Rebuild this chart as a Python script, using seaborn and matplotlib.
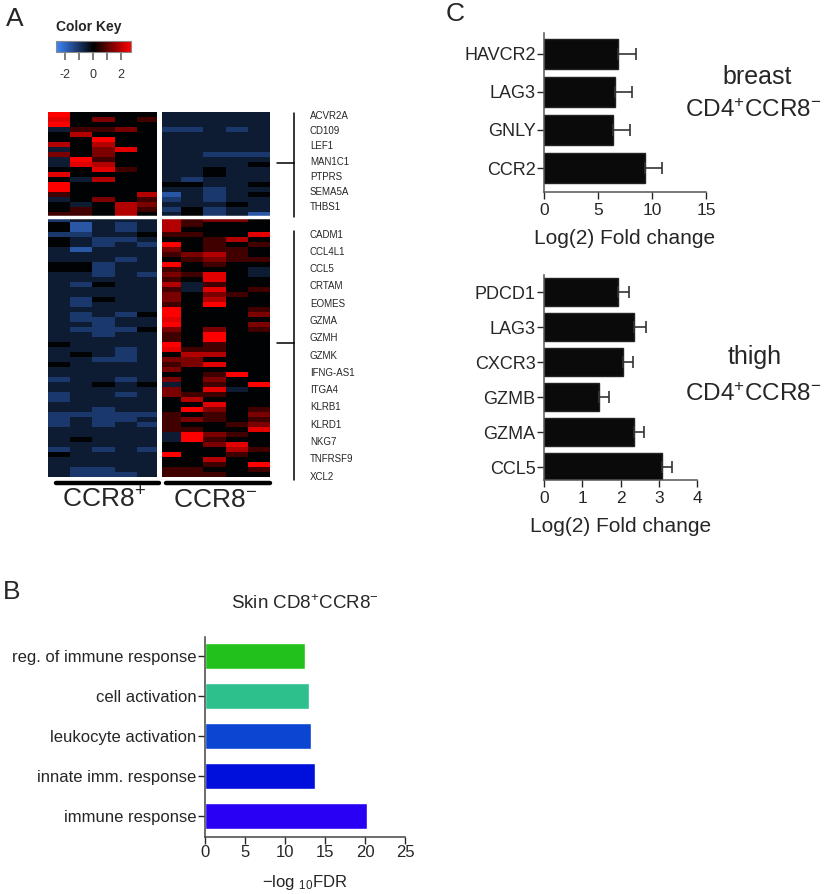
import numpy as np
import pandas as pd
import seaborn as sns
import matplotlib.pyplot as plt
from matplotlib.colors import LinearSegmentedColormap

# heatmap levels: each character of a row indexes heat_levels
# first 5 characters = CCR8+ samples, last 5 = CCR8- samples
heat_levels = [-2.3, -1.7, -1.1, -0.5, 0.0, 0.7, 1.3, 1.9, 2.4, 2.7]
heat_top = [
    "9444433333", "8464533333", "9444433333", "3556422323", "4744433333",
    "4494433333", "7474433333", "3468433333", "6464433222", "3954433333",
    "3874433334", "4485433433", "8444433433", "4374432333", "9444444334",
    "9444433233", "5444713234", "3464523233", "4347633343", "4547524233",
    "5547434231",
]
heat_bottom = [
    "2333375664", "4132375444", "4132374444", "2233455448", "4322344574",
    "4323294545", "3133364554", "3333356754", "3332345655", "4423394544",
    "4423354443", "3323265843", "3333354844", "3243373544", "3333353845",
    "3333364654", "3243364744", "3233354944", "3333394445", "3232494446",
    "3223384444", "3323394446", "3222464645", "3323354944", "3333354944",
    "4333394544", "3332385544", "3432347744", "3322366444", "4333356844",
    "3333364444", "3333344594", "2332364644", "3343434549", "3333364834",
    "2332365544", "2333347444", "3333344844", "3323349645", "2222254546",
    "2322356545", "2323254456", "3333355448", "3333339654", "3433339544",
    "3333344684", "2323244475", "4333394454", "3333344744", "3333344549",
    "3223355445", "3222355544",
]
genes_top = ["ACVR2A", "CD109", "LEF1", "MAN1C1", "PTPRS", "SEMA5A", "THBS1"]
genes_bottom = ["CADM1", "CCL4L1", "CCL5", "CRTAM", "EOMES", "GZMA", "GZMH",
                "GZMK", "IFNG-AS1", "ITGA4", "KLRB1", "KLRD1", "NKG7",
                "TNFRSF9", "XCL2"]

go_terms = ["reg. of immune response", "cell activation", "leukocyte activation",
            "innate imm. response", "immune response"]
go_fdr = [12.5, 13.0, 13.2, 13.75, 20.2]
go_colors = ["#22c11c", "#2ec08c", "#0a46d2", "#0010dc", "#2a00f5"]

breast_genes = ["HAVCR2", "LAG3", "GNLY", "CCR2"]
breast_fc = [6.85, 6.6, 6.4, 9.35]
breast_err = [1.65, 1.55, 1.6, 1.55]

thigh_genes = ["PDCD1", "LAG3", "CXCR3", "GZMB", "GZMA", "CCL5"]
thigh_fc = [1.94, 2.35, 2.07, 1.44, 2.34, 3.09]
thigh_err = [0.28, 0.31, 0.25, 0.27, 0.28, 0.25]

sns.set_style("ticks")
plt.rcParams["font.family"] = ["Liberation Sans", "DejaVu Sans"]
plt.rcParams["mathtext.fontset"] = "custom"
plt.rcParams["mathtext.rm"] = "Liberation Sans"
plt.rcParams["mathtext.it"] = "Liberation Sans:italic"
plt.rcParams["mathtext.bf"] = "Liberation Sans:bold"

W, H = 825, 894
fig = plt.figure(figsize=(W / 100, H / 100), dpi=100)


def box(x0, y0, x1, y1):
    # pixel box -> figure fraction rect
    return [x0 / W, 1 - y1 / H, (x1 - x0) / W, (y1 - y0) / H]


# ---- A: heatmap
rows = heat_top + heat_bottom
heat = pd.DataFrame([[heat_levels[int(c)] for c in r] for r in rows])
cmap = LinearSegmentedColormap.from_list("key", ["#3f86ff", "#000000", "#ff0000"])

hax = fig.add_axes(box(48, 112, 270, 477))
cax = fig.add_axes(box(56, 41, 131, 52))
sns.heatmap(heat, ax=hax, cmap=cmap, vmin=-2.65, vmax=2.7, cbar_ax=cax,
            cbar_kws={"orientation": "horizontal"},
            xticklabels=False, yticklabels=False)
hax.axhline(len(heat_top), color="white", lw=2.5)
hax.axvline(5, color="white", lw=3.6)

cax.set_xticks([-2, -1, 0, 1, 2])
cax.set_xticklabels(["-2", "", "0", "", "2"])
cax.tick_params(axis="x", length=6, width=1.2, color="#666666", pad=6,
                labelsize=9, labelcolor="#333333")
cbar = hax.collections[0].colorbar
cbar.outline.set_edgecolor("#888888")
cbar.outline.set_linewidth(0.8)

# ---- B: GO terms
bax = fig.add_axes(box(205, 637, 405, 837))
sns.barplot(x=go_fdr, y=go_terms, hue=go_terms, palette=go_colors, legend=False,
            orient="h", width=0.65, ax=bax, saturation=1)
bax.set_xlim(0, 25)
bax.set_ylim(4.53, -0.48)
bax.set_xticks([0, 5, 10, 15, 20, 25])
bax.set_title(r"Skin $\mathregular{CD8^{+}CCR8^{-}}$", fontsize=13.5, pad=20)
bax.set_xlabel(r"$\mathregular{-log\ _{10}FDR}$", fontsize=12, labelpad=9)
bax.set_ylabel("")
bax.tick_params(labelsize=12, length=5, width=1, pad=1)
sns.despine(ax=bax)
for s in ["left", "bottom"]:
    bax.spines[s].set_color("#444444")
    bax.spines[s].set_linewidth(1.1)


# ---- C: fold changes
def fold_panel(rect, genes, fc, err, xmax, step, ylim):
    ax = fig.add_axes(rect)
    sns.barplot(x=fc, y=genes, color="#0a0a0a", orient="h", width=0.79,
                ax=ax, saturation=1, edgecolor="#222222")
    ax.errorbar(fc, np.arange(len(genes)), xerr=[np.zeros(len(genes)), err],
                fmt="none", ecolor="#333333", elinewidth=1.2, capsize=4.5,
                capthick=1.2)
    ax.set_xlim(0, xmax)
    ax.set_xticks(np.arange(0, xmax + step / 2, step))
    ax.set_ylim(*ylim)
    ax.set_xlabel("Log(2) Fold change", fontsize=15, labelpad=8)
    ax.set_ylabel("")
    ax.tick_params(axis="y", labelsize=13, length=5, width=1, pad=1)
    ax.tick_params(axis="x", labelsize=12.5, length=5, width=1, pad=3)
    sns.despine(ax=ax)
    for s in ["left", "bottom"]:
        ax.spines[s].set_color("#555555")
        ax.spines[s].set_linewidth(1.1)
    return ax


fold_panel(box(544, 33, 706, 192), breast_genes, breast_fc, breast_err,
           15, 5, (3.63, -0.55))
fold_panel(box(544, 275, 697, 480), thigh_genes, thigh_fc, thigh_err,
           4, 1, (5.37, -0.49))

# ---- overlay for labels, brackets and group bars
ov = fig.add_axes([0, 0, 1, 1])
ov.set_xlim(0, W)
ov.set_ylim(H, 0)
ov.axis("off")

for letter, (x, y) in zip("ABC", [(15, 19), (12, 592), (455, 14)]):
    ov.text(x, y, letter, fontsize=19, ha="center", va="center")

ov.text(56, 27, "Color Key", fontsize=10, fontweight="bold", ha="left", va="center")

for i, g in enumerate(genes_top):
    ov.text(310, 116 + i * 15.2, g, fontsize=7, ha="left", va="center")
for i, g in enumerate(genes_bottom):
    ov.text(310, 234.5 + i * 17.3, g, fontsize=7, ha="left", va="center")

ov.plot([294, 294], [113, 217], color="black", lw=1.1)
ov.plot([277, 294], [163, 163], color="black", lw=1.1)
ov.plot([294, 294], [231, 480], color="black", lw=1.1)
ov.plot([277, 294], [343, 343], color="black", lw=1.1)

ov.plot([56, 159], [483, 483], color="black", lw=3.2, solid_capstyle="round")
ov.plot([166, 270], [483, 483], color="black", lw=3.2, solid_capstyle="round")
ov.text(104, 500, r"$\mathregular{CCR8^{+}}$", fontsize=19, ha="center", va="center")
ov.text(215, 500, r"$\mathregular{CCR8^{-}}$", fontsize=19, ha="center", va="center")

ov.text(757, 77, "breast", fontsize=18, ha="center", va="center")
ov.text(822, 111, r"$\mathregular{CD4^{+}CCR8^{-}}$", fontsize=17.5, ha="right", va="center")
ov.text(755, 357, "thigh", fontsize=18, ha="center", va="center")
ov.text(822, 395, r"$\mathregular{CD4^{+}CCR8^{-}}$", fontsize=17.5, ha="right", va="center")

plt.savefig("out.png", dpi=100)
plt.close()
